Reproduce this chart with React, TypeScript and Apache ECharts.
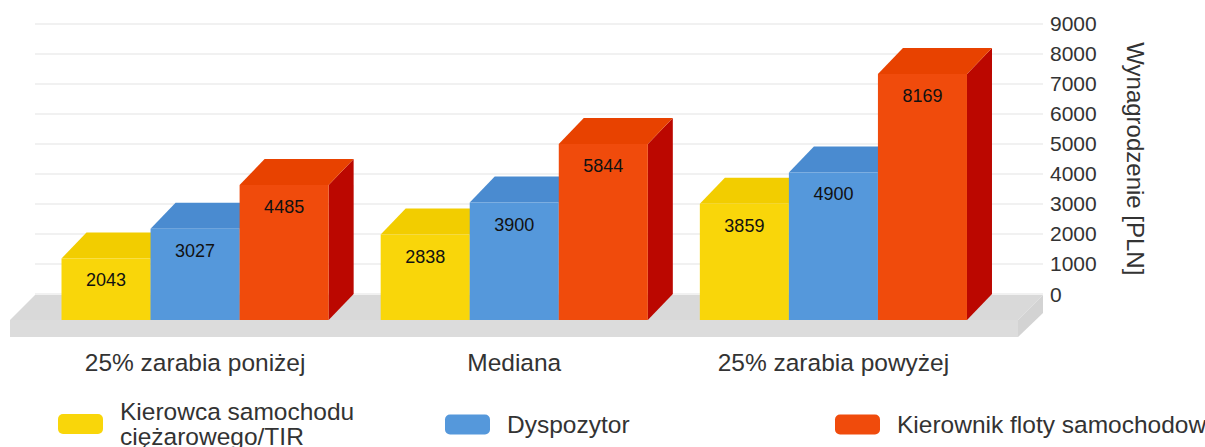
import React, { useEffect, useRef } from "react";
import * as echarts from "echarts";

const categories = ["25% zarabia poniżej", "Mediana", "25% zarabia powyżej"];
const seriesNames = ["Kierowca samochodu ciężarowego/TIR", "Dyspozytor", "Kierownik floty samochodowej"];
const kierowcaValues = [2043, 2838, 3859];
const dyspozytorValues = [3027, 3900, 4900];
const kierownikValues = [4485, 5844, 8169];
const yMin = 0;
const yMax = 9000;
const yInterval = 1000;
const yAxisTitle = "Wynagrodzenie [PLN]";

const FONT = "'Liberation Sans', Arial, sans-serif";
const DX = 25;
const DY = -26;

const palettes = [
  { front: "#f9d60a", top: "#f2cd00", side: "#c9a800" },
  { front: "#5598db", top: "#4a8bd0", side: "#3a6fb0" },
  { front: "#f04b0c", top: "#e84200", side: "#bb0700" },
];

function makeRender(idx: number) {
  const pal = palettes[idx];
  return (params: any, api: any) => {
    const cat = api.value(0);
    const val = api.value(1);
    const catW = api.size([1, 0])[0];
    const barW = catW * 0.279;
    const c = api.coord([cat, val]);
    const b = api.coord([cat, 0]);
    const xl = c[0] + (idx - 1.5) * barW;
    const xr = xl + barW;
    const yt = c[1];
    const yb = b[1];
    return {
      type: "group",
      children: [
        {
          type: "polygon",
          shape: { points: [[xr, yt], [xr + DX, yt + DY], [xr + DX, yb + DY], [xr, yb]] },
          style: { fill: pal.side },
        },
        {
          type: "polygon",
          shape: { points: [[xl, yt], [xr, yt], [xr + DX, yt + DY], [xl + DX, yt + DY]] },
          style: { fill: pal.top },
        },
        {
          type: "rect",
          shape: { x: xl, y: yt, width: barW, height: yb - yt },
          style: { fill: pal.front },
        },
        {
          type: "text",
          x: (xl + xr) / 2,
          y: yt + 22,
          style: {
            text: String(val),
            align: "center",
            verticalAlign: "middle",
            fontSize: 18,
            fontFamily: FONT,
            fill: "#111",
          },
        },
      ],
    };
  };
}

export default function App() {
  const ref = useRef<HTMLDivElement>(null);
  useEffect(() => {
    if (!ref.current) return;
    const chart = echarts.init(ref.current, undefined, { renderer: "svg" });
    const allValues = [kierowcaValues, dyspozytorValues, kierownikValues];
    const legendLefts = [53, 440, 830];
    const legendTops = [394, 407, 407];
    const option: any = {
      animation: false,
      backgroundColor: "#ffffff",
      grid: [
        { left: 35.5, right: 1205 - 993, top: 49, bottom: 447 - 320 },
        { left: 35, right: 1205 - 1043, top: 23.5, bottom: 447 - 294 },
      ],
      xAxis: [
        {
          type: "category",
          gridIndex: 0,
          data: categories,
          axisLine: { show: false },
          axisTick: { show: false },
          axisLabel: { margin: 30, fontSize: 24.5, fontFamily: FONT, color: "#333" },
        },
        { type: "category", gridIndex: 1, data: categories, show: false },
      ],
      yAxis: [
        { type: "value", gridIndex: 0, min: yMin, max: yMax, interval: yInterval, show: false },
        {
          type: "value",
          gridIndex: 1,
          position: "right",
          min: yMin,
          max: yMax,
          interval: yInterval,
          axisLine: { show: false },
          axisTick: { show: false },
          splitLine: { show: true, lineStyle: { color: "#f1f1f1", width: 2 } },
          axisLabel: {
            margin: 7,
            fontSize: 21,
            fontFamily: FONT,
            color: "#333",
            formatter: (v: number) => String(v),
          },
          name: yAxisTitle,
          nameLocation: "middle",
          nameRotate: -90,
          nameGap: 80,
          nameTextStyle: { fontSize: 24, fontFamily: FONT, color: "#333" },
        },
      ],
      legend: seriesNames.map((n, i) => ({
        data: [n],
        left: legendLefts[i],
        top: legendTops[i],
        icon: "roundRect",
        itemWidth: 45,
        itemHeight: 20,
        selectedMode: false,
        formatter: (name: string) =>
          name === "Kierowca samochodu ciężarowego/TIR" ? "Kierowca samochodu\nciężarowego/TIR" : name,
        textStyle: { fontSize: 24.5, fontFamily: FONT, color: "#333", lineHeight: 25, padding: [0, 0, 0, 12] },
      })),
      graphic: [
        {
          type: "polygon",
          z: 1,
          shape: { points: [[10, 320], [1018, 320], [1043, 295], [35, 295]] },
          style: { fill: "#d9d9d9" },
        },
        {
          type: "rect",
          z: 1,
          shape: { x: 10, y: 320, width: 1008, height: 17 },
          style: { fill: "#dcdcdc" },
        },
        {
          type: "polygon",
          z: 1,
          shape: { points: [[1018, 320], [1043, 295], [1043, 313], [1018, 337]] },
          style: { fill: "#d3d3d3" },
        },
      ],
      series: allValues.map((vals, i) => ({
        type: "custom",
        name: seriesNames[i],
        xAxisIndex: 0,
        yAxisIndex: 0,
        z: 3 + i,
        itemStyle: { color: palettes[i].front },
        renderItem: makeRender(i),
        encode: { x: 0, y: 1 },
        data: vals.map((v, k) => [k, v]),
      })),
    };
    chart.setOption(option);
    return () => chart.dispose();
  }, []);
  return (
    <div
      ref={ref}
      style={{ position: "fixed", left: 0, top: 0, width: 1205, height: 447 }}
    />
  );
}
